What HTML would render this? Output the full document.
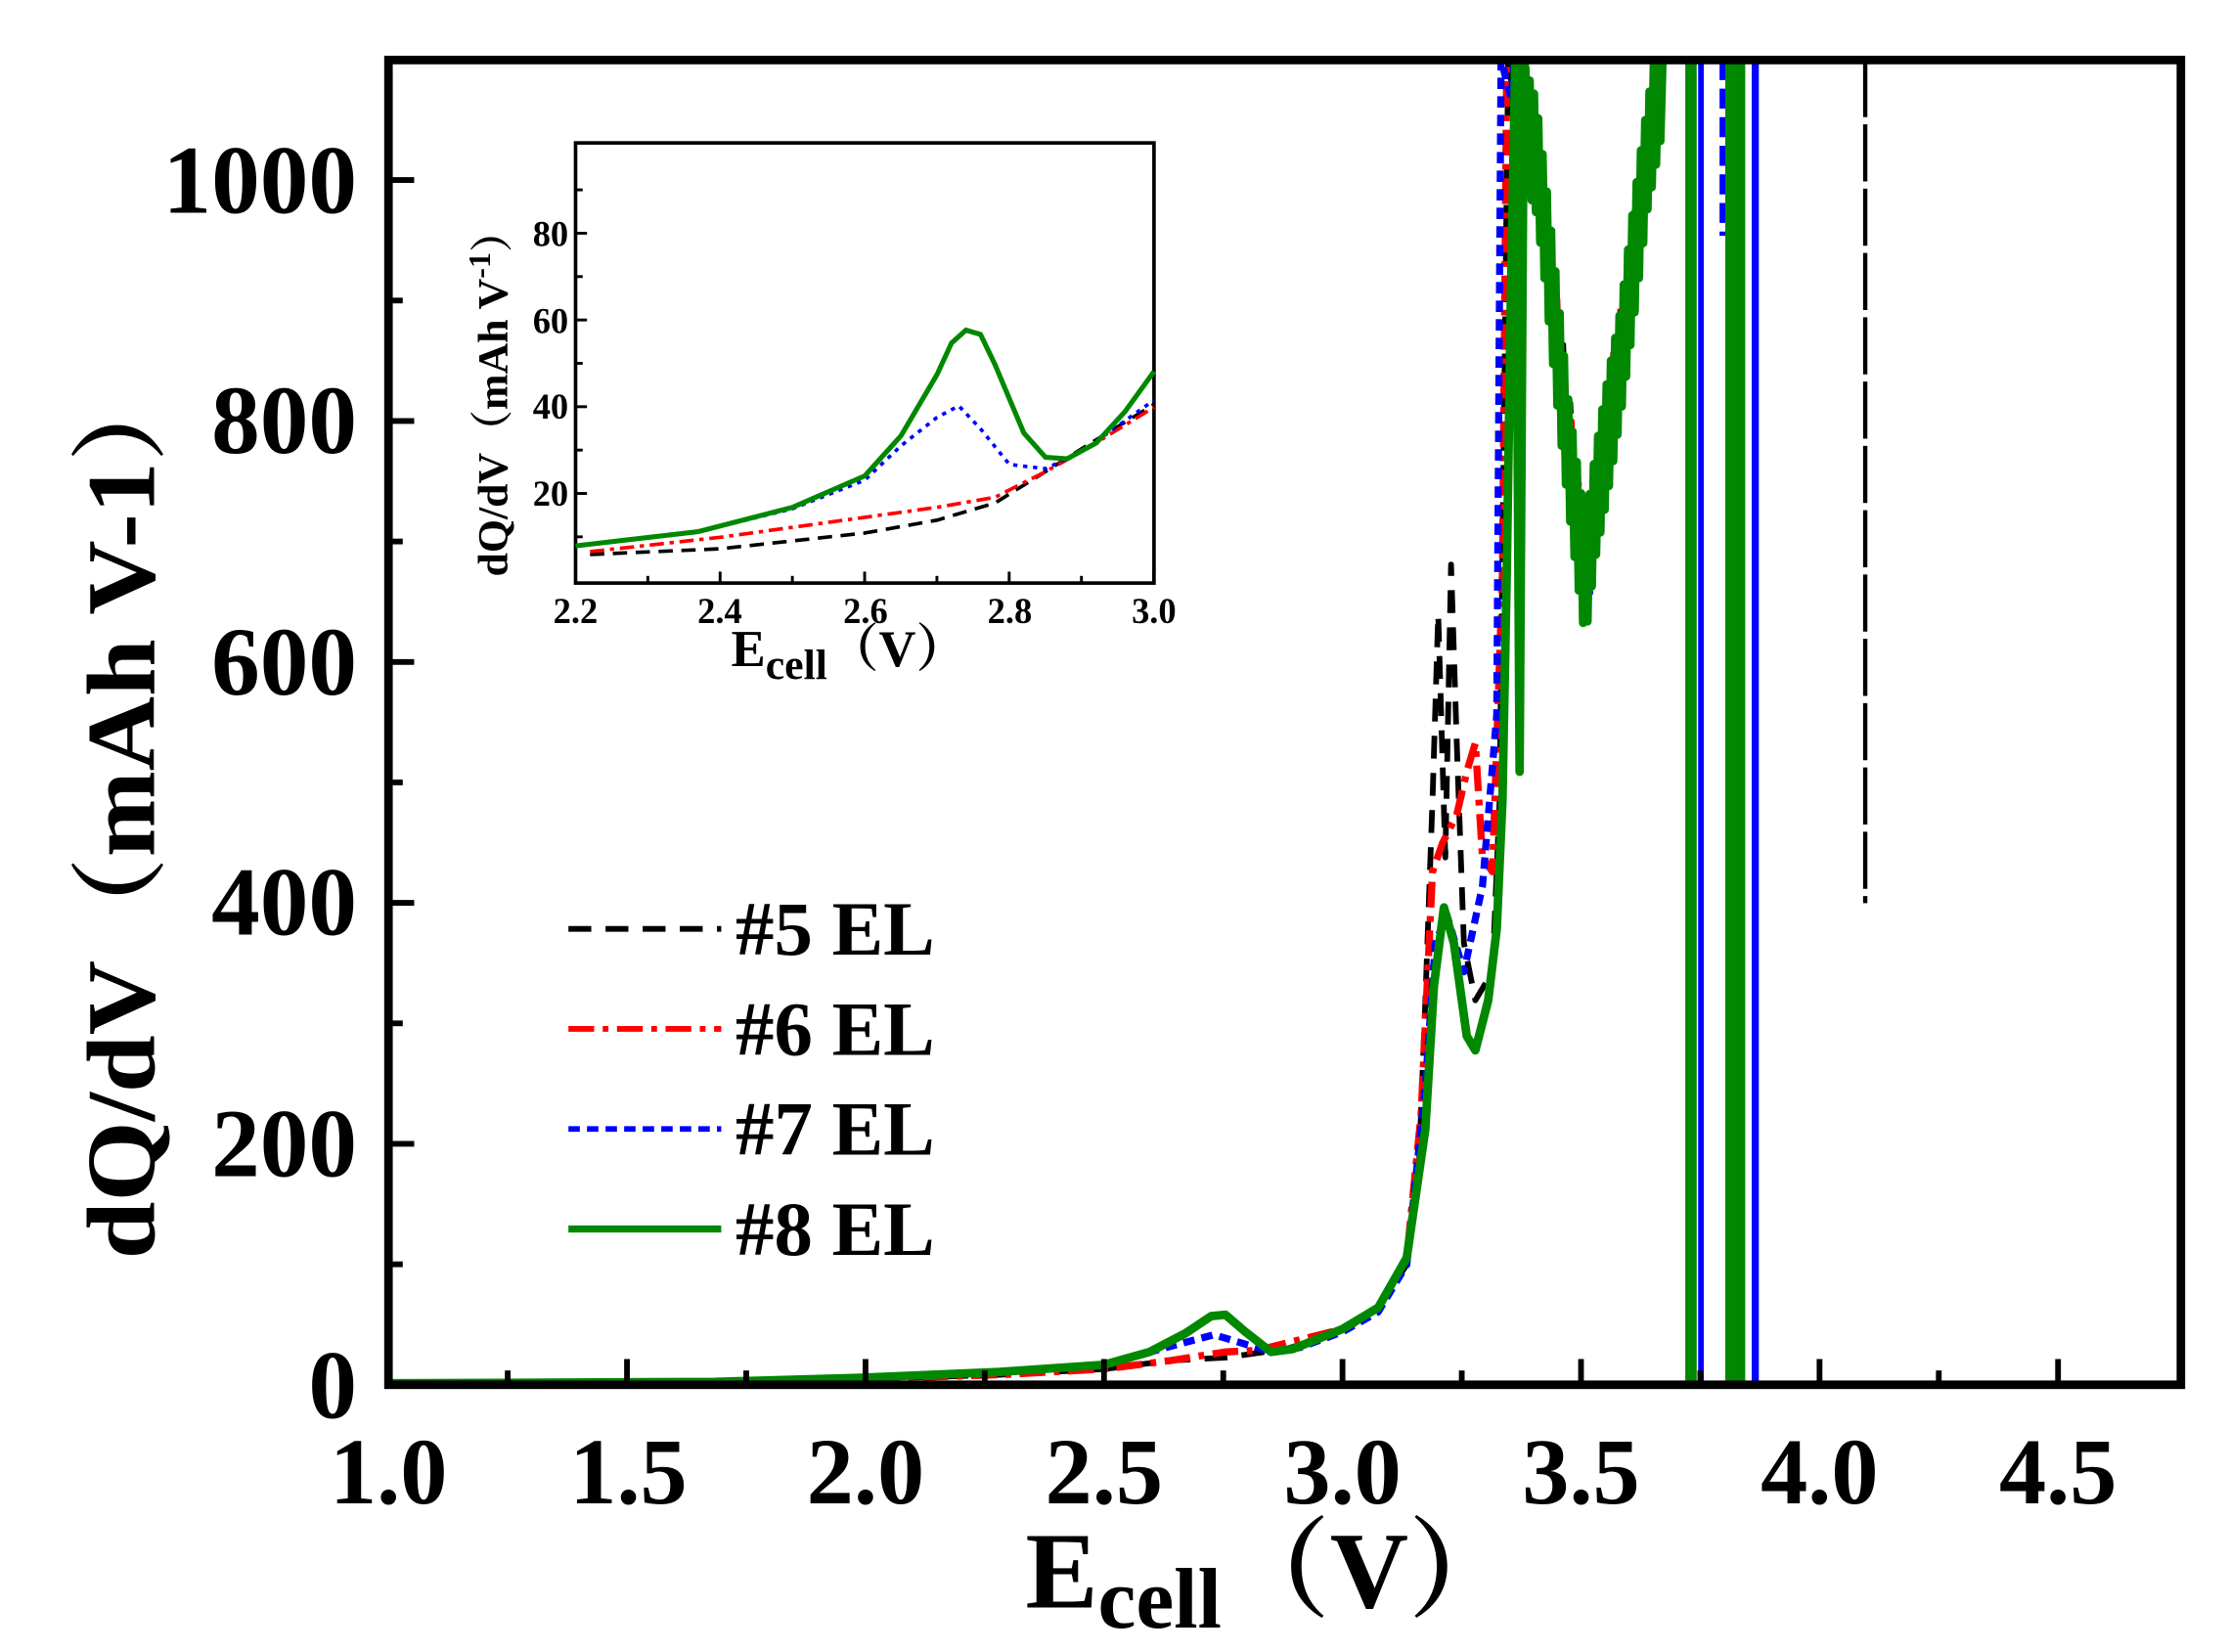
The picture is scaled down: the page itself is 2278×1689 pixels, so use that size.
<!DOCTYPE html>
<html><head><meta charset="utf-8"><style>
html,body{margin:0;padding:0;background:#fff;}
svg{display:block}
text{font-family:"Liberation Serif","Noto Serif CJK SC",serif;font-weight:bold;fill:#000}
</style></head><body>
<svg id="s" width="2278" height="1689" viewBox="0 0 1560 1156" preserveAspectRatio="none" xmlns="http://www.w3.org/2000/svg">
<rect x="0" y="0" width="1560" height="1156" fill="#fff"/>
<g id="main" fill="none" stroke-linejoin="round"></g>
<rect x="272" y="42" width="1255" height="927" fill="none" stroke="#000" stroke-width="6"/>
<g id="ticks" stroke="#000" stroke-width="4"></g>
<g font-size="68" text-anchor="end">
<text x="250" y="992">0</text>
<text x="250" y="823">200</text>
<text x="250" y="654">400</text>
<text x="250" y="486">600</text>
<text x="250" y="317">800</text>
<text x="250" y="149">1000</text>
</g>
<g font-size="66" text-anchor="middle">
<text x="272" y="1052">1.0</text><text x="440" y="1052">1.5</text><text x="606" y="1052">2.0</text>
<text x="773" y="1052">2.5</text><text x="940" y="1052">3.0</text><text x="1107" y="1052">3.5</text>
<text x="1274" y="1052">4.0</text><text x="1441" y="1052">4.5</text>
</g>
<text x="718" y="1125" font-size="76">E<tspan font-size="60" dy="14">cell</tspan><tspan dy="-14">（V）</tspan></text>
<text transform="translate(108,566) rotate(-90)" font-size="68" text-anchor="middle" textLength="630" lengthAdjust="spacingAndGlyphs">dQ/dV（mAh V-1）</text>
<g stroke-width="4" fill="none">
<line x1="398" y1="650" x2="505" y2="650" stroke="#000" stroke-dasharray="16,10"/>
<line x1="398" y1="720" x2="505" y2="720" stroke="#f00" stroke-dasharray="18,6,4,6"/>
<line x1="398" y1="790" x2="505" y2="790" stroke="#00f" stroke-dasharray="8,5"/>
<line x1="398" y1="860" x2="505" y2="860" stroke="#080" stroke-width="5"/>
</g>
<g font-size="54">
<text x="515" y="668">#5 EL</text><text x="515" y="738">#6 EL</text>
<text x="515" y="808">#7 EL</text><text x="515" y="878">#8 EL</text>
</g>
<rect x="403" y="100" width="405" height="308" fill="#fff" stroke="#000" stroke-width="2.5"/>
<g id="inset" fill="none"></g>
<g id="iticks" stroke="#000" stroke-width="2"></g>
<g font-size="25" text-anchor="middle">
<text x="403" y="436">2.2</text><text x="504" y="436">2.4</text><text x="606" y="436">2.6</text>
<text x="707" y="436">2.8</text><text x="808" y="436">3.0</text>
</g>
<g font-size="25" text-anchor="end">
<text x="398" y="354">20</text><text x="398" y="293">40</text><text x="398" y="233">60</text><text x="398" y="172">80</text>
</g>
<text x="512" y="466" font-size="36">E<tspan font-size="30" dy="9">cell</tspan><tspan dy="-9">（V）</tspan></text>
<text transform="translate(355,275) rotate(-90)" font-size="30" text-anchor="middle">dQ/dV（mAh V<tspan font-size="22" dy="-12">-1</tspan><tspan dy="12">）</tspan></text>
</svg>
<script>
var NS="http://www.w3.org/2000/svg";
function el(p,t,a){var e=document.createElementNS(NS,t);for(var k in a)e.setAttribute(k,a[k]);p.appendChild(e);return e;}
var tk=document.getElementById('ticks');
for(var i=0;i<=14;i++){var x=272+i*83.5;if(x>1525)break;var L=(i%2==0)?18:10;el(tk,'line',{x1:x,y1:969,x2:x,y2:969-L});}
for(var i=0;i<=10;i++){var y=969-i*84.3;var L=(i%2==0)?18:10;el(tk,'line',{x1:272,y1:y,x2:272+L,y2:y});}
var it=document.getElementById('iticks');
for(var i=0;i<=8;i++){var x=403+i*50.6;var L=(i%2==0)?8:5;el(it,'line',{x1:x,y1:408,x2:x,y2:408-L});}
for(var i=1;i<=9;i++){var y=406-i*30.35;var L=(i%2==0)?8:5;el(it,'line',{x1:403,y1:y,x2:403+L,y2:y});}
function pts(a){return a.map(function(p){return p[0]+','+p[1]}).join(' ');}
var m=document.getElementById('main');
function V(x,ym){ if(x<1075) return 60+(x-1062)*4; if(x<1110) return 110+(x-1075)*(ym-110)/35; return ym-(x-1110)*(ym-42)/55;}
function jag(x0,x1,step,amp,ym,seed){var r=[],k=seed;for(var x=x0;x<=x1;x+=step){k++;var y=V(x,ym)+((k%2)?amp:-amp)*(0.6+0.4*Math.abs(Math.sin(k*1.7)));r.push([x,Math.max(42,Math.min(969,y))]);}return r;}
var common=[[272,968],[500,967],[606,965],[700,962],[773,958],[820,952],[858,950],[900,944],[940,932],[965,915],[985,885]];
var blk=common.concat([[993,830],[998,700],[1003,560],[1007,430],[1012,600],[1016,395],[1020,520],[1025,660],[1033,700],[1045,680],[1050,560],[1053,300],[1056,42]]).concat(jag(1062,1160,2.5,25,390,0));
el(m,'polyline',{points:pts(blk),stroke:'#000','stroke-width':4,'stroke-dasharray':'16,10'});
var red=[[272,968],[500,967],[606,965],[700,962],[773,958],[820,952],[858,946],[880,945],[900,940],[940,930],[965,915],[985,880],[995,780],[1003,610],[1010,590],[1020,570],[1027,540],[1033,520],[1038,600],[1045,610],[1052,400],[1055,42]].concat(jag(1060,1160,2.5,25,400,1));
el(m,'polyline',{points:pts(red),stroke:'#f00','stroke-width':5,'stroke-dasharray':'18,6,4,6'});
var blu=[[272,968],[500,967],[606,964],[700,960],[773,955],[820,942],[850,934],[870,940],[890,946],[910,943],[940,932],[965,918],[985,885],[998,760],[1005,660],[1013,640],[1025,680],[1038,620],[1048,500],[1051,42]].concat(jag(1058,1162,2.5,25,410,2));
el(m,'polyline',{points:pts(blu),stroke:'#00f','stroke-width':5,'stroke-dasharray':'8,5'});
var grn=[[272,968],[500,967],[606,964],[700,960],[773,955],[805,946],[830,933],[848,921],[858,920],[872,932],[890,946],[905,944],[940,930],[965,915],[985,880],[998,790],[1004,690],[1011,635],[1018,660],[1027,725],[1033,735],[1042,700],[1048,650],[1052,560],[1055,400],[1058,200],[1061,42],[1064,540],[1067,42]].concat(jag(1068,1165,1.5,45,410,3));
el(m,'polyline',{points:pts(grn),stroke:'#080','stroke-width':6});
el(m,'line',{x1:1184,y1:42,x2:1184,y2:969,stroke:'#080','stroke-width':8});
el(m,'line',{x1:1191,y1:42,x2:1191,y2:969,stroke:'#00f','stroke-width':4});
el(m,'line',{x1:1215,y1:42,x2:1215,y2:969,stroke:'#080','stroke-width':14});
el(m,'line',{x1:1229,y1:42,x2:1229,y2:969,stroke:'#00f','stroke-width':5});
el(m,'line',{x1:1206,y1:42,x2:1206,y2:165,stroke:'#00f','stroke-width':4,'stroke-dasharray':'14,6'});
el(m,'line',{x1:1306,y1:42,x2:1306,y2:632,stroke:'#000','stroke-width':3,'stroke-dasharray':'40,5'});
var ins=document.getElementById('inset');
function ix(v){return 403+(v-2.2)*506.25;}
function cv(a){return a.map(function(p){return [ix(p[0]),p[1]]});}
el(ins,'polyline',{points:pts(cv([[2.22,388],[2.4,384],[2.6,373],[2.7,364],[2.78,352],[2.85,330],[2.9,314],[3.0,283]])),stroke:'#000','stroke-width':2.5,'stroke-dasharray':'10,6'});
el(ins,'polyline',{points:pts(cv([[2.22,386],[2.4,376],[2.6,362],[2.7,355],[2.78,348],[2.85,330],[2.9,316],[3.0,285]])),stroke:'#f00','stroke-width':2.5,'stroke-dasharray':'10,4,3,4'});
el(ins,'polyline',{points:pts(cv([[2.2,382],[2.37,372],[2.5,356],[2.6,336],[2.65,312],[2.7,292],[2.73,284],[2.76,300],[2.8,325],[2.85,328],[2.9,316],[3.0,280]])),stroke:'#00f','stroke-width':2.5,'stroke-dasharray':'3,4'});
el(ins,'polyline',{points:pts(cv([[2.2,382],[2.37,372],[2.5,355],[2.6,333],[2.65,305],[2.7,262],[2.72,240],[2.74,231],[2.76,234],[2.78,255],[2.82,303],[2.85,320],[2.88,321],[2.92,310],[2.96,288],[3.0,260]])),stroke:'#080','stroke-width':3.5});
</script>
</body></html>
